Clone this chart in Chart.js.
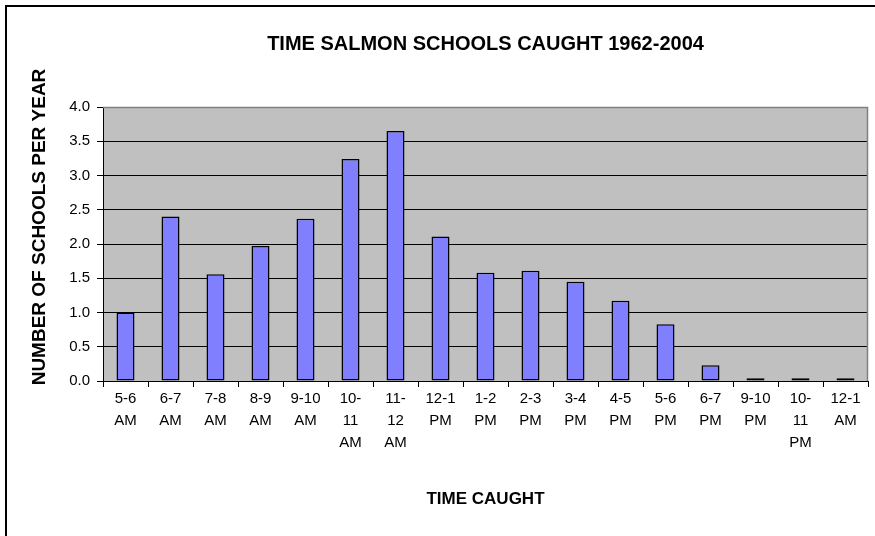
<!DOCTYPE html>
<html>
<head>
<meta charset="utf-8">
<script src="https://cdn.jsdelivr.net/npm/chart.js@4"></script>
<style>
  html, body { margin: 0; padding: 0; background: #fff; }
  #wrap { width: 875px; height: 536px; }
</style>
</head>
<body>
<div id="wrap"><canvas id="myChart" width="875" height="536"></canvas></div>
<script>
// time slots (x axis), multi-line like the original labels
const timeSlots = [
  ["5-6", "AM"], ["6-7", "AM"], ["7-8", "AM"], ["8-9", "AM"], ["9-10", "AM"],
  ["10-", "11", "AM"], ["11-", "12", "AM"], ["12-1", "PM"], ["1-2", "PM"],
  ["2-3", "PM"], ["3-4", "PM"], ["4-5", "PM"], ["5-6", "PM"], ["6-7", "PM"],
  ["9-10", "PM"], ["10-", "11", "PM"], ["12-1", "AM"]
];
const schoolsPerYear = [1.0, 2.40, 1.56, 1.97, 2.37, 3.24, 3.65, 2.11, 1.58, 1.61, 1.45, 1.17, 0.83, 0.23, 0.04, 0.04, 0.04];
const yTicks = [0, 0.5, 1.0, 1.5, 2.0, 2.5, 3.0, 3.5, 4.0];
const yTitle = "NUMBER OF SCHOOLS PER YEAR";

const FONT = "'Liberation Sans', Arial, sans-serif";

// grey plot area, outer chart frame, rotated y title
const excelLook = {
  id: "excelLook",
  beforeDraw(chart) {
    const { ctx, chartArea: a } = chart;
    ctx.save();
    ctx.fillStyle = "#c0c0c0";
    ctx.fillRect(a.left, a.top, a.right - a.left, a.bottom - a.top);
    ctx.strokeStyle = "#000";
    ctx.lineWidth = 2;
    ctx.strokeRect(6, 6, 2000, 2000);
    ctx.restore();
  },
  afterDatasetsDraw(chart) {
    const { ctx, chartArea: a } = chart;
    ctx.save();
    ctx.strokeStyle = "#808080";
    ctx.lineWidth = 1.5;
    ctx.beginPath();
    ctx.moveTo(a.left, a.top + 0.5);
    ctx.lineTo(a.right - 0.5, a.top + 0.5);
    ctx.lineTo(a.right - 0.5, a.bottom);
    ctx.stroke();
    // y axis title, sitting a bit above the plot centre like the original
    ctx.translate(40, 227);
    ctx.rotate(-Math.PI / 2);
    ctx.fillStyle = "#000";
    ctx.font = "bold 19px " + FONT;
    ctx.textAlign = "center";
    ctx.textBaseline = "middle";
    ctx.fillText(yTitle, 0, 0);
    ctx.restore();
  }
};

const setupChart = () => {
  const ctx = document.getElementById("myChart");
  const data = {
    labels: timeSlots,
    datasets: [
      {
        label: "Schools per year",
        data: schoolsPerYear,
        backgroundColor: "#8080ff",
        borderColor: "#000",
        borderWidth: 1.5,
        borderSkipped: false,
        barPercentage: 0.4,
        categoryPercentage: 1.0,
      },
    ],
  };
  return new Chart(ctx, {
    type: "bar",
    data: data,
    plugins: [excelLook],
    options: {
      responsive: false,
      animation: false,
      layout: { padding: { left: 0, right: 7, top: 0, bottom: 0 } },
      plugins: {
        legend: { display: false },
        tooltip: { enabled: false },
        title: {
          display: true,
          fullSize: false,
          text: "TIME SALMON SCHOOLS CAUGHT 1962-2004",
          color: "#000",
          font: { family: FONT, size: 20, weight: "bold" },
          padding: { top: 32, bottom: 51 },
        },
      },
      scales: {
        x: {
          afterFit: (s) => { s.height = 155; },
          grid: {
            display: true,
            offset: true,
            drawOnChartArea: false,
            drawTicks: true,
            tickLength: 6,
            color: "#000",
          },
          border: { display: true, color: "#000", width: 1 },
          ticks: {
            color: "#000",
            padding: 1,
            maxRotation: 0,
            autoSkip: false,
            font: { family: FONT, size: 15, lineHeight: 1.45 },
          },
          title: {
            display: true,
            text: "TIME CAUGHT",
            color: "#000",
            font: { family: FONT, size: 17, weight: "bold" },
            padding: { top: 0, bottom: 26 },
          },
        },
        y: {
          min: 0,
          max: 4,
          afterFit: (s) => { s.width = 103; },
          afterBuildTicks: (s) => { s.ticks = yTicks.map((v) => ({ value: v })); },
          grid: {
            color: "#000",
            lineWidth: 1,
            drawTicks: true,
            tickLength: 6,
          },
          border: { display: true, color: "#000", width: 1 },
          ticks: {
            color: "#000",
            padding: 7,
            font: { family: FONT, size: 15 },
            callback: (v) => Number(v).toFixed(1),
          },
        },
      },
    },
  });
};

setupChart();
</script>
</body>
</html>
